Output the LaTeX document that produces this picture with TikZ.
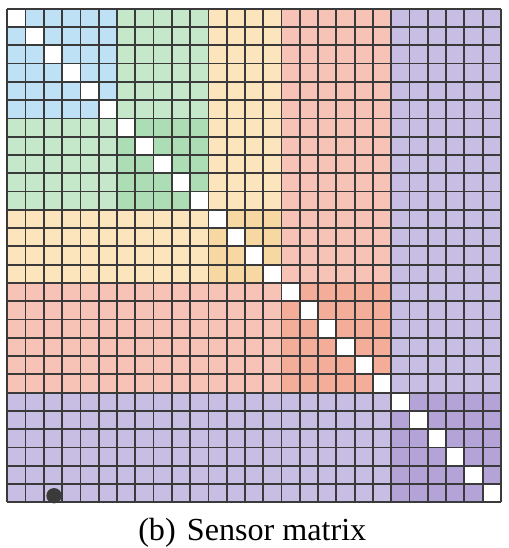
\documentclass[tikz,border=0pt]{standalone}
\usepackage{fontspec}
\setmainfont{Liberation Serif}
\usetikzlibrary{positioning}
\definecolor{blueL}{HTML}{BEE1F5}
\definecolor{greenL}{HTML}{C5E7CA}
\definecolor{greenD}{HTML}{ADDDB4}
\definecolor{yellowL}{HTML}{FCE4BC}
\definecolor{yellowD}{HTML}{F8D8A2}
\definecolor{redL}{HTML}{F6C3B6}
\definecolor{redD}{HTML}{F4AD98}
\definecolor{purpleL}{HTML}{C8BDE2}
\definecolor{purpleD}{HTML}{B4A3D7}
\definecolor{gridgray}{HTML}{3A3A3A}
\tikzstyle{gridline} = [line width=1pt, draw=gridgray]
\tikzstyle{caption}  = [font=\fontsize{18}{21}\selectfont, anchor=base,
                        inner sep=0pt]

\begin{document}
\begin{tikzpicture}[x=0.36cm, y=-0.36cm]
\useasboundingbox (-0.40,-0.476) rectangle (27.405,29.50);

% sensor groups, largest first
\foreach \s/\e/\lite/\dark in {21/27/purpleL/purpleD, 15/21/redL/redD,
                               11/15/yellowL/yellowD, 6/11/greenL/greenD,
                               0/6/blueL/blueL} {
  \fill[\lite] (0,0) rectangle (\e,\e);
  \fill[\dark] (\s,\s) rectangle (\e,\e);
}
% diagonal
\foreach \i in {0,...,26}
  \fill[white] (\i,\i) rectangle ++(1,1);

\foreach \k in {0,...,27} {
  \draw[gridline] (\k,0) -- (\k,27);
  \draw[gridline] (0,\k) -- (27,\k);
}

\fill[gridgray] (2.556,26.64) circle (0.42);

\node (cap) [caption] at (13.4,29.08) {(b)\hspace{0.35em}Sensor matrix};

\end{tikzpicture}
\end{document}
